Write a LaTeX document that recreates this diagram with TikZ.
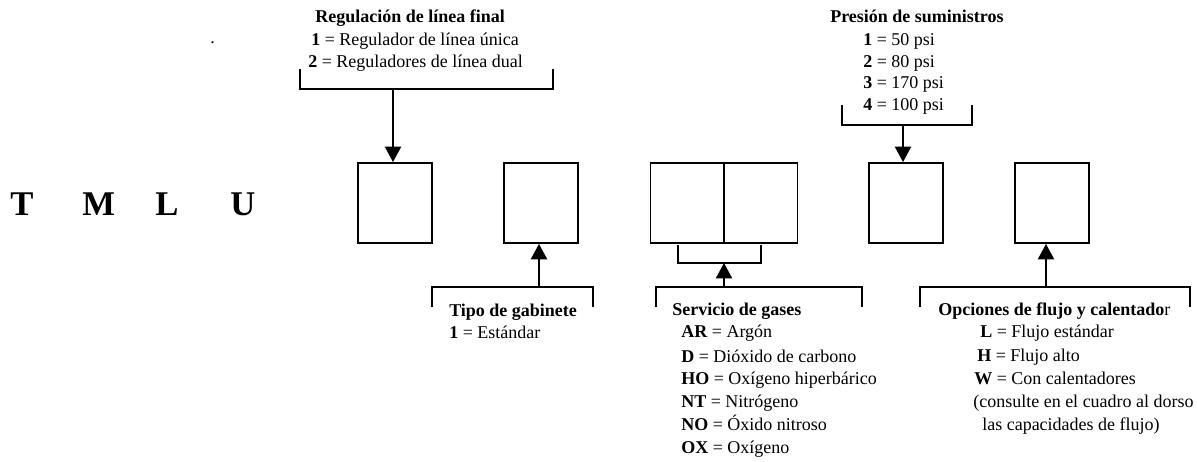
\documentclass[tikz,border=0pt]{standalone}
\usepackage{fontspec}
\setmainfont{Liberation Serif}
\usetikzlibrary{arrows.meta,positioning}
\tikzset{
    code box/.style={draw,line width=1.4pt,minimum width=55.5pt,minimum height=60pt,inner sep=0pt},
    bracket/.style={line width=1.4pt},
    arr/.style={-{Triangle[length=11.5pt,width=12pt]},line width=1.5pt},
    legend/.style={anchor=base west,inner sep=0pt},
    legend title/.style={legend,font=\fontsize{13.5}{16}\selectfont\bfseries},
    code letter/.style={anchor=base west,inner sep=0pt,font=\fontsize{26}{30}\selectfont\bfseries},
}
\tikzstyle{every node}=[font=\fontsize{13.5}{16}\selectfont]

\begin{document}
\begin{tikzpicture}[x=0.75pt,y=-0.75pt]
        \useasboundingbox (0,0) rectangle (1197,461);
        % model prefix
        \foreach \ltr/\xx in {T/10,M/82,L/155,U/230}
        \node[code letter] (pre-\ltr) at (\xx,215) {\ltr};
        % code boxes
        \node[code box] (boxreg) at (395,203) {};
        \node[code box] (boxcab) at (541,203) {};
        \node[code box] (boxgasA) at (687.5,203) {};
        \node[code box] (boxgasB) at (760.5,203) {};
        \node[code box] (boxpres) at (906,203) {};
        \node[code box] (boxflujo) at (1052,203) {};
        % regulacion
        \node[legend] (dot) at (210,43) {.};
        \node[legend title] (regtitle) at (315,22) {Regulación de línea final};
        \node[legend] (reg1) at (311,45) {\textbf{1} = Regulador de línea única};
        \node[legend] (reg2) at (308,67) {\textbf{2} = Reguladores de línea dual};
        \draw[bracket] (300,69) -- (300,89) -- (553,89) -- (553,69);
        \coordinate (regfoot) at (393,89);
        \draw[arr] (regfoot) -- (regfoot |- boxreg.north);
        % presion
        \node[legend title] (prestitle) at (830,22) {Presión de suministros};
        \foreach \num/\val/\yy in {1/50/45,2/80/67,3/170/88,4/100/110}
        \node[legend] (pres\num) at (863,\yy) {\textbf{\num} = \val\ psi};
        \draw[bracket] (842,105) -- (842,125) -- (972,125) -- (972,105);
        \coordinate (presfoot) at (903,125);
        \draw[arr] (presfoot) -- (presfoot |- boxpres.north);
        % gabinete
        \draw[bracket] (432,307) -- (432,287) -- (593,287) -- (593,307);
        \coordinate (cabhead) at (539,287);
        \draw[arr] (cabhead) -- (cabhead |- boxcab.south);
        \node[legend title] (cabtitle) at (449,316) {Tipo de gabinete};
        \node[legend] (cab1) at (449,338) {\textbf{1} = Estándar};
        % gases
        \draw[bracket] (678,245) -- (678,263) -- (761,263) -- (761,245);
        \coordinate (gasjoin) at (724,263);
        \draw[bracket] (656,307) -- (656,287) -- (862,287) -- (862,307);
        \coordinate (gashead) at (724,287);
        \draw[arr] (gashead) -- (gasjoin);
        \node[legend title] (gastitle) at (672,315) {Servicio de gases};
        \foreach \cod/\txt/\yy in {AR/Argón/337,D/Dióxido de carbono/362,HO/Oxígeno hiperbárico/384,NT/Nitrógeno/407,NO/Óxido nitroso/430,OX/Oxígeno/453}
        \node[legend] (gas-\cod) at (681,\yy) {\textbf{\cod} = \txt};
        % flujo
        \draw[bracket] (920,307) -- (920,287) -- (1190,287) -- (1190,307);
        \coordinate (flujohead) at (1046,287);
        \draw[arr] (flujohead) -- (flujohead |- boxflujo.south);
        \node[legend] (flujotitle) at (938,315) {\textbf{Opciones de flujo y calentado}r};
        \node[legend] (flujoL) at (980,337) {\textbf{L} = Flujo estándar};
        \node[legend] (flujoH) at (977,361) {\textbf{H} = Flujo alto};
        \node[legend] (flujoW) at (974,384) {\textbf{W} = Con calentadores};
        \node[legend] (flujonota1) at (973,407) {(consulte en el cuadro al dorso};
        \node[legend] (flujonota2) at (982,430) {las capacidades de flujo)};
    \end{tikzpicture}
\end{document}
